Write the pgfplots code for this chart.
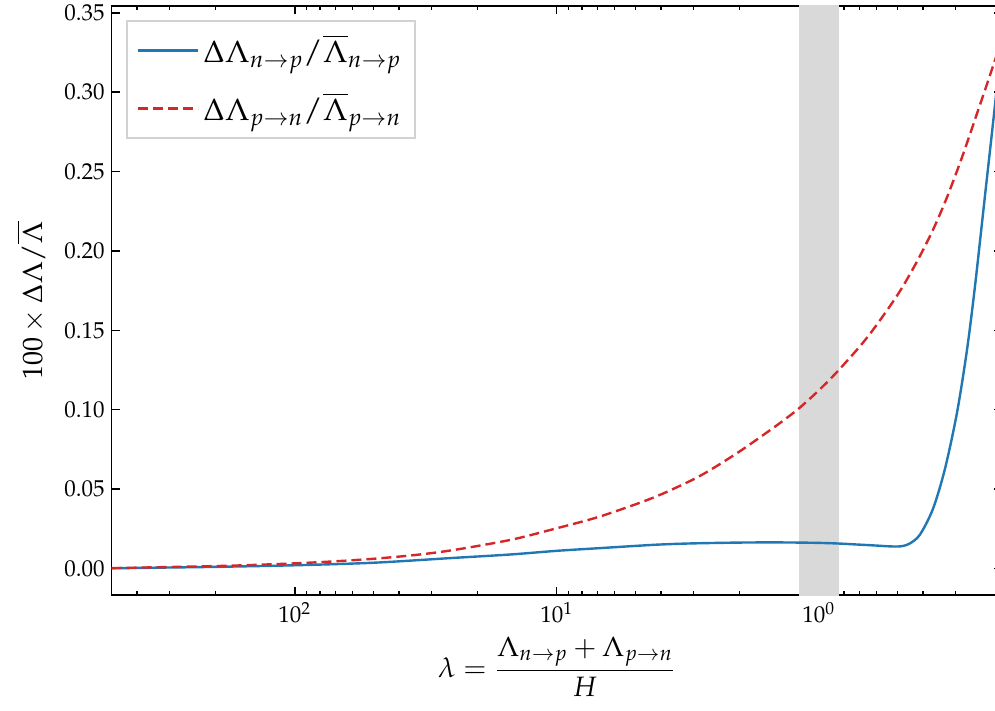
\documentclass[border=0pt]{standalone}
\usepackage{mathpazo}
\usepackage{pgfplots}
\pgfplotsset{compat=1.18}
\definecolor{mblue}{HTML}{1F77B4}
\definecolor{mred}{HTML}{D62728}
\begin{document}
\begin{tikzpicture}
\begin{axis}[
  scale only axis, width=445.1pt, height=294.65pt,
  xmode=log, x dir=reverse, xmin=0.2, xmax=500,
  ymin=-0.0169, ymax=0.3543,
  ytick={0,0.05,0.1,0.15,0.2,0.25,0.3,0.35},
  yticklabel style={/pgf/number format/.cd, fixed, fixed zerofill, precision=2},
  ticklabel style={font=\fontsize{11.5}{14}\selectfont},
  tick align=inside, major tick length=4pt, minor tick length=2pt,
  axis line style={line width=0.8pt},
  every tick/.style={black, line width=0.8pt},
  minor tick style={line width=0.6pt},
  xlabel={$\displaystyle \lambda = \frac{\Lambda_{n\to p}+\Lambda_{p\to n}}{H}$},
  ylabel={$100\times\Delta\Lambda/\overline{\Lambda}$},
  label style={font=\fontsize{14}{17}\selectfont},
  ylabel style={at={(axis description cs:-0.0905,0.5)}, anchor=center},
  legend cell align=left,
  legend style={at={(axis description cs:0.0162,0.976)}, anchor=north west,
    draw=gray!35, line width=0.8pt, font=\fontsize{15.5}{18}\selectfont,
    inner xsep=5pt, inner ysep=5pt, row sep=9.5pt},
  legend image code/.code={\draw[#1] (0pt,0pt) -- (30pt,0pt);},
]
\addplot[draw=none, fill=gray!30, forget plot] coordinates {(0.839,-1) (1.19,-1) (1.19,1) (0.839,1)} -- cycle;
\addplot[mblue, line width=1.2pt, smooth, tension=0.5] coordinates {
(500,0.0001) (300,0.0006) (200,0.0010) (100,0.0020) (50,0.0036) (25,0.0066)
(15,0.0088) (10,0.0111) (7,0.0127) (5,0.0142) (4,0.0151) (3,0.0158)
(2,0.0163) (1.5,0.0164) (1.2,0.0163) (1.0,0.0161) (0.84,0.0157) (0.7,0.0150)
(0.6,0.0144) (0.55,0.0140) (0.5025,0.0138) (0.4758,0.0142) (0.4481,0.0158)
(0.4106,0.0213) (0.3663,0.0375) (0.3296,0.0627) (0.2965,0.0981) (0.2716,0.1376)
(0.2532,0.1776) (0.2319,0.2346) (0.212,0.2930) (0.2,0.3350)
};
\addlegendentry{$\Delta\Lambda_{n\to p}/\overline{\Lambda}_{n\to p}$}
\addplot[mred, line width=1.2pt, dash pattern=on 5pt off 2.5pt, smooth, tension=0.5] coordinates {
(500,0.0002) (300,0.0009) (200,0.0015) (150,0.0021) (100,0.0032) (70,0.0045)
(50,0.0061) (35,0.0084) (25,0.0115) (15,0.0180) (10,0.0253) (7,0.0322)
(5,0.0404) (4,0.0466) (3,0.0562) (2.5,0.0636) (2,0.0738) (1.675,0.0826)
(1.4,0.0918) (1.19,0.1008) (1.0,0.1121) (0.84,0.1248) (0.65,0.1459)
(0.5,0.1723) (0.42,0.1938) (0.365,0.2138) (0.325,0.2331) (0.289,0.2553)
(0.265,0.2731) (0.249,0.2863) (0.23,0.3030) (0.212,0.3205) (0.2,0.3330)
};
\addlegendentry{$\Delta\Lambda_{p\to n}/\overline{\Lambda}_{p\to n}$}
\end{axis}
\pgfresetboundingbox
\path (current axis.south west) ++(-55.8pt,-57.85pt) rectangle ++(497.5pt,355.5pt);
\end{tikzpicture}
\end{document}
